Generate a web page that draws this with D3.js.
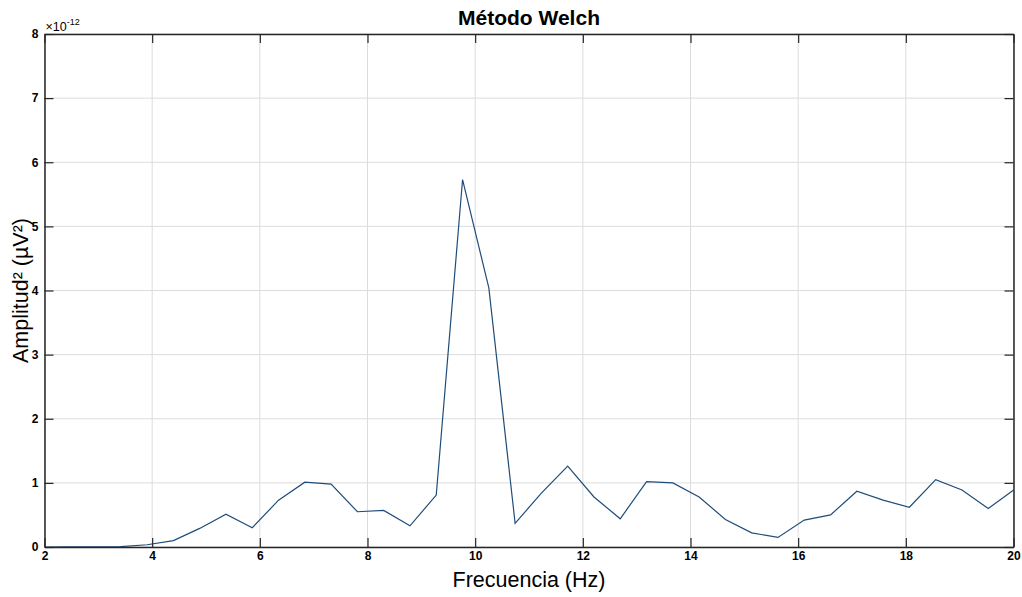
<!DOCTYPE html>
<html><head><meta charset="utf-8">
<script src="https://cdn.jsdelivr.net/npm/d3@7"></script>
<style>body{margin:0;background:#fff;} svg{display:block;font-family:"Liberation Sans",Arial,sans-serif;}</style>
</head><body><svg id="c" width="1022" height="597"></svg>
<script>
// Frequencies (Hz) — Welch bins of 0.48828 Hz
const freqs = [1.953,2.441,2.930,3.418,3.906,4.395,4.883,5.371,5.859,6.348,6.836,7.324,7.813,8.301,8.789,9.277,9.766,10.254,10.742,11.230,11.719,12.207,12.695,13.184,13.672,14.160,14.648,15.137,15.625,16.113,16.602,17.090,17.578,18.066,18.555,19.043,19.531,20.020];
// Amplitude² in units of 1e-12 µV²
const power = [0.000,0.001,0.002,0.006,0.035,0.10,0.29,0.51,0.30,0.73,1.01,0.98,0.55,0.57,0.33,0.81,5.73,4.04,0.37,0.84,1.26,0.78,0.44,1.02,1.00,0.78,0.43,0.22,0.15,0.42,0.50,0.87,0.73,0.62,1.05,0.89,0.60,0.90];
const xTicks = [2,4,6,8,10,12,14,16,18,20];
const yTicks = [0,1,2,3,4,5,6,7,8];
const title = "Método Welch";
const xLabel = "Frecuencia (Hz)";
const yLabel = "Amplitud² (µV²)";

const svg = d3.select("#c");
const m = {l:44.5, r:1013.5, t:34, b:547};
const x = d3.scaleLinear().domain([2,20]).range([m.l,m.r]);
const y = d3.scaleLinear().domain([0,8]).range([m.b,m.t]);
const axisCol = "#262626";

// grid
const g = svg.append("g");
g.selectAll(".vg").data(xTicks).enter().append("line")
  .attr("x1",d=>x(d)).attr("x2",d=>x(d)).attr("y1",m.t).attr("y2",m.b)
  .attr("stroke","#dcdcdc").attr("stroke-width",1);
g.selectAll(".hg").data(yTicks).enter().append("line")
  .attr("y1",d=>y(d)).attr("y2",d=>y(d)).attr("x1",m.l).attr("x2",m.r)
  .attr("stroke","#dcdcdc").attr("stroke-width",1);

// line
svg.append("clipPath").attr("id","clip").append("rect")
  .attr("x",m.l).attr("y",m.t).attr("width",m.r-m.l).attr("height",m.b-m.t);
const line = d3.line().x((d,i)=>x(freqs[i])).y(d=>y(d));
svg.append("path").datum(power).attr("d",line).attr("clip-path","url(#clip)")
  .attr("fill","none").attr("stroke","#1f4d7a").attr("stroke-width",1.2);

// axes (MATLAB-style box, inward ticks)
const tl = 9;
const xa = d3.axisBottom(x).tickValues(xTicks).tickSizeInner(-tl).tickSizeOuter(0).tickPadding(12).tickFormat(d3.format("d"));
const xb = svg.append("g").attr("transform",`translate(0,${m.b})`).call(xa);
const xt = d3.axisTop(x).tickValues(xTicks).tickSizeInner(-tl).tickSizeOuter(0).tickFormat("");
const xtg = svg.append("g").attr("transform",`translate(0,${m.t})`).call(xt);
const ya = d3.axisLeft(y).tickValues(yTicks).tickSizeInner(-tl).tickSizeOuter(0).tickPadding(12).tickFormat(d3.format("d"));
const yl = svg.append("g").attr("transform",`translate(${m.l},0)`).call(ya);
const yr = d3.axisRight(y).tickValues(yTicks).tickSizeInner(-tl).tickSizeOuter(0).tickFormat("");
const yrg = svg.append("g").attr("transform",`translate(${m.r},0)`).call(yr);
[xb,xtg,yl,yrg].forEach(a=>{
  a.select(".domain").attr("stroke",axisCol).attr("stroke-width",1.5);
  a.selectAll(".tick line").attr("stroke",axisCol).attr("stroke-width",1.2);
  a.selectAll(".tick text").attr("fill","#000").attr("font-size",12).attr("font-weight","bold")
    .attr("font-family","'Liberation Sans',Arial,sans-serif");
});
xb.selectAll(".tick text").attr("dy","0.71em").attr("transform","translate(0,-8)");
yl.selectAll(".tick text").attr("transform","translate(6,0)");

// exponent
const ex = svg.append("text").attr("x",m.l+1).attr("y",m.t-3).attr("font-size",12.5).attr("fill","#000");
ex.append("tspan").text("×10");
ex.append("tspan").attr("font-size",9).attr("dy",-6).text("-12");

// title and labels
svg.append("text").attr("x",(m.l+m.r)/2).attr("y",25).attr("text-anchor","middle")
  .attr("font-size",21).attr("font-weight","bold").text(title);
svg.append("text").attr("x",(m.l+m.r)/2).attr("y",586.5).attr("text-anchor","middle")
  .attr("font-size",21.5).text(xLabel);
svg.append("text").attr("transform",`translate(28,${(m.t+m.b)/2}) rotate(-90)`).attr("text-anchor","middle")
  .attr("font-size",21.5).text(yLabel);
</script></body></html>
